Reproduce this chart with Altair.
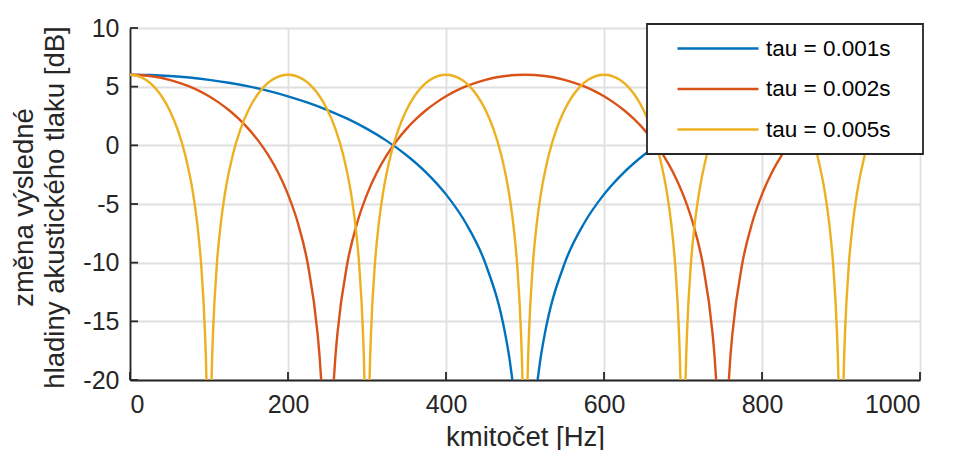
import altair as alt
import pandas as pd

FONT = "Liberation Sans, Arial, Helvetica, sans-serif"

series_names = ["tau = 0.001s", "tau = 0.002s", "tau = 0.005s"]
series_colors = ["#0072BD", "#D95319", "#EDB120"]

# None marks a break in the curve (the curve dips below -20 dB there)
blue_f = [0, 25, 50, 75, 100, 125, 150, 175, 200, 225, 250, 275, 300, 325, 350, 375, 400, 425, 450, 475, 480, 484,
          None,
          516, 520, 525, 550, 575, 600, 625, 650, 675, 700, 725, 750, 775, 800, 825, 850, 875, 900, 925, 950, 975, 1000]
blue_db = [6.02, 5.99, 5.91, 5.78, 5.58, 5.33, 5.02, 4.64, 4.18, 3.64, 3.01, 2.27, 1.40, 0.38, -0.84, -2.32, -4.18, -6.62, -10.09, -16.09, -18.02, -20,
           None,
           -20, -18.02, -16.09, -10.09, -6.62, -4.18, -2.32, -0.84, 0.38, 1.40, 2.27, 3.01, 3.64, 4.18, 4.64, 5.02, 5.33, 5.58, 5.78, 5.91, 5.99, 6.02]

orange_f = [0, 12.5, 25, 37.5, 50, 62.5, 75, 87.5, 100, 112.5, 125, 137.5, 150, 162.5, 175, 187.5, 200, 212.5, 225, 237.5, 240, 242,
            None,
            258, 260, 262.5, 275, 287.5, 300, 312.5, 325, 337.5, 350, 362.5, 375, 387.5, 400, 412.5, 425, 437.5, 450, 462.5, 475, 487.5, 500,
            512.5, 525, 537.5, 550, 562.5, 575, 587.5, 600, 612.5, 625, 637.5, 650, 662.5, 675, 687.5, 700, 712.5, 725, 737.5, 740, 742,
            None,
            758, 760, 762.5, 775, 787.5, 800, 812.5, 825, 837.5, 850, 862.5, 875, 887.5, 900, 912.5, 925, 937.5, 950, 962.5, 975, 987.5, 1000]
orange_db = [6.02, 5.99, 5.91, 5.78, 5.58, 5.33, 5.02, 4.64, 4.18, 3.64, 3.01, 2.27, 1.40, 0.38, -0.84, -2.32, -4.18, -6.62, -10.09, -16.09, -18.02, -20,
             None,
             -20, -18.02, -16.09, -10.09, -6.62, -4.18, -2.32, -0.84, 0.38, 1.40, 2.27, 3.01, 3.64, 4.18, 4.64, 5.02, 5.33, 5.58, 5.78, 5.91, 5.99, 6.02,
             5.99, 5.91, 5.78, 5.58, 5.33, 5.02, 4.64, 4.18, 3.64, 3.01, 2.27, 1.40, 0.38, -0.84, -2.32, -4.18, -6.62, -10.09, -16.09, -18.02, -20,
             None,
             -20, -18.02, -16.09, -10.09, -6.62, -4.18, -2.32, -0.84, 0.38, 1.40, 2.27, 3.01, 3.64, 4.18, 4.64, 5.02, 5.33, 5.58, 5.78, 5.91, 5.99, 6.02]

yellow_f = [0, 10, 20, 30, 40, 50, 60, 70, 80, 85, 90, 95, 96, 96.8,
            None,
            103.2, 104, 105, 110, 115, 120, 130, 140, 150, 160, 170, 180, 190, 200, 210, 220, 230, 240, 250, 260, 270, 280, 285, 290, 295, 296, 296.8,
            None,
            303.2, 304, 305, 310, 315, 320, 330, 340, 350, 360, 370, 380, 390, 400, 410, 420, 430, 440, 450, 460, 470, 480, 485, 490, 495, 496, 496.8,
            None,
            503.2, 504, 505, 510, 515, 520, 530, 540, 550, 560, 570, 580, 590, 600, 610, 620, 630, 640, 650, 660, 670, 680, 685, 690, 695, 696, 696.8,
            None,
            703.2, 704, 705, 710, 715, 720, 730, 740, 750, 760, 770, 780, 790, 800, 810, 820, 830, 840, 850, 860, 870, 880, 885, 890, 895, 896, 896.8,
            None,
            903.2, 904, 905, 910, 915, 920, 930, 940, 950, 960, 970, 980, 990, 1000]
yellow_db = [6.02, 5.91, 5.58, 5.02, 4.18, 3.01, 1.40, -0.84, -4.18, -6.62, -10.09, -16.09, -18.02, -20,
             None,
             -20, -18.02, -16.09, -10.09, -6.62, -4.18, -0.84, 1.40, 3.01, 4.18, 5.02, 5.58, 5.91, 6.02, 5.91, 5.58, 5.02, 4.18, 3.01, 1.40, -0.84, -4.18, -6.62, -10.09, -16.09, -18.02, -20,
             None,
             -20, -18.02, -16.09, -10.09, -6.62, -4.18, -0.84, 1.40, 3.01, 4.18, 5.02, 5.58, 5.91, 6.02, 5.91, 5.58, 5.02, 4.18, 3.01, 1.40, -0.84, -4.18, -6.62, -10.09, -16.09, -18.02, -20,
             None,
             -20, -18.02, -16.09, -10.09, -6.62, -4.18, -0.84, 1.40, 3.01, 4.18, 5.02, 5.58, 5.91, 6.02, 5.91, 5.58, 5.02, 4.18, 3.01, 1.40, -0.84, -4.18, -6.62, -10.09, -16.09, -18.02, -20,
             None,
             -20, -18.02, -16.09, -10.09, -6.62, -4.18, -0.84, 1.40, 3.01, 4.18, 5.02, 5.58, 5.91, 6.02, 5.91, 5.58, 5.02, 4.18, 3.01, 1.40, -0.84, -4.18, -6.62, -10.09, -16.09, -18.02, -20,
             None,
             -20, -18.02, -16.09, -10.09, -6.62, -4.18, -0.84, 1.40, 3.01, 4.18, 5.02, 5.58, 5.91, 6.02]

x_ticks = [0, 200, 400, 600, 800, 1000]
y_ticks = [-20, -15, -10, -5, 0, 5, 10]

rows = []
order = 0
for name, fs, dbs in zip(series_names, [blue_f, orange_f, yellow_f], [blue_db, orange_db, yellow_db]):
    seg = 0
    for f, d in zip(fs, dbs):
        if f is None:
            seg += 1
            continue
        rows.append({"series": name, "seg": f"{name}-{seg}", "f": f, "db": d, "o": order})
        order += 1
df = pd.DataFrame(rows)

x_scale = alt.Scale(domain=[0, 1000], nice=False, zero=False)
y_scale = alt.Scale(domain=[-20, 10], nice=False, zero=False)

GRID = "#dfdfdf"
AX = "#262626"

x_axis = alt.Axis(values=x_ticks, format="d", title="kmitočet [Hz]", ticks=False, tickSize=0,
                  labelPadding=12, labelFontSize=25, labelColor=AX, labelFont=FONT,
                  titleFontSize=27.5, titleFont=FONT, titleColor=AX, titleFontWeight="normal",
                  titleY=65, titleBaseline="alphabetic",
                  domainColor=AX, domainWidth=1.8, gridColor=GRID, gridWidth=1.8)
y_axis = alt.Axis(values=y_ticks, labelExpr="'' + datum.value",
                  title=["změna výsledné", "hladiny akustického tlaku [dB]"],
                  ticks=False, tickSize=0, labelPadding=11, labelFontSize=25, labelColor=AX, labelFont=FONT,
                  titleFontSize=27.5, titleFont=FONT, titleColor=AX, titleFontWeight="normal",
                  titleLineHeight=31, titleAngle=270, titleAlign="center", titleBaseline="middle",
                  titleX=-106, titleY=179,
                  domainColor=AX, domainWidth=1.8, gridColor=GRID, gridWidth=1.8)

X = alt.X("f:Q", scale=x_scale, axis=x_axis)
Y = alt.Y("db:Q", scale=y_scale, axis=y_axis)

legend = alt.Legend(orient="none", legendX=517, legendY=-4, title=None, padding=13,
                    fillColor="white", strokeColor=AX,
                    symbolType="M0.6,0H8.7", symbolSize=400, symbolStrokeWidth=2.4,
                    labelFontSize=22.5, labelFont=FONT, labelColor="#000000", labelOffset=83,
                    rowPadding=17.5, zindex=1,
                    labelExpr="datum.label + '\u00a0\u00a0\u00a0\u200b'")

lines = alt.Chart(df).mark_line(strokeWidth=2.4, clip=True, interpolate="monotone").encode(
    x=X, y=Y,
    color=alt.Color("series:N", scale=alt.Scale(domain=series_names, range=series_colors), legend=legend),
    detail="seg:N",
    order="o:Q",
)

xt = alt.Chart(pd.DataFrame({"f": x_ticks})).mark_rule(color=AX, strokeWidth=1.8).encode(
    x=X, y=alt.value(352), y2=alt.value(344))
yt = alt.Chart(pd.DataFrame({"db": y_ticks})).mark_rule(color=AX, strokeWidth=1.8).encode(
    y=Y, x=alt.value(0), x2=alt.value(8))

chart = alt.layer(lines, xt, yt).properties(
    width=790, height=352,
    autosize=alt.AutoSizeParams(type="none"),
    padding={"left": 122, "top": 20, "right": 16, "bottom": 70},
    background="white",
).configure_view(strokeWidth=0).configure_legend(strokeWidth=1.8)

chart.save("out.html", embed_options={"renderer": "svg", "actions": False})
